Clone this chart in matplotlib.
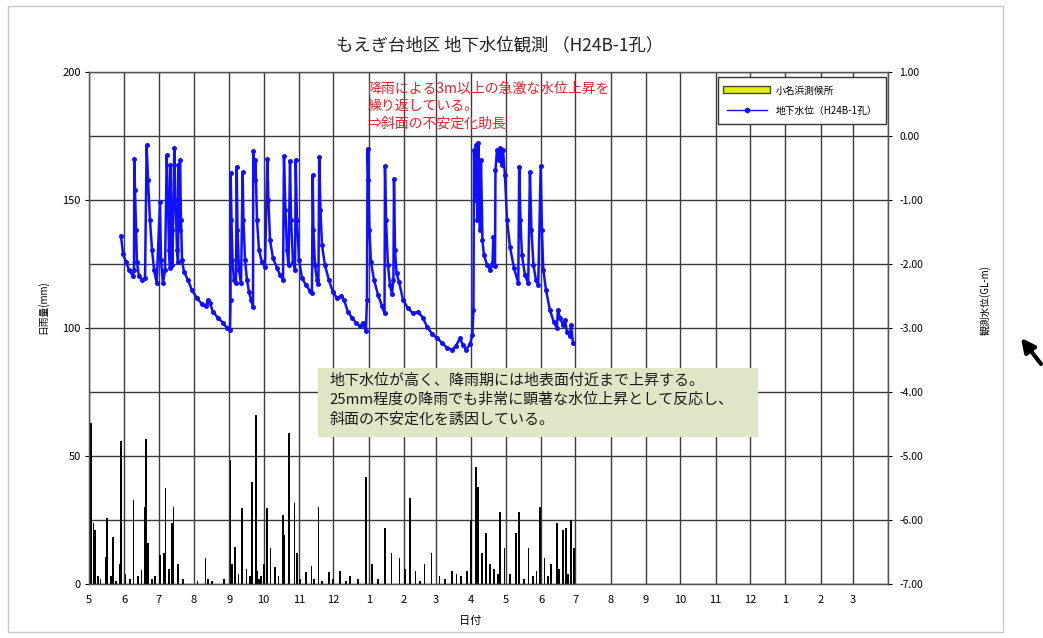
import matplotlib
matplotlib.use('Agg')
import matplotlib.pyplot as plt
import matplotlib.patheffects as pe
from matplotlib.lines import Line2D
from matplotlib.patches import Rectangle, FancyArrowPatch
from matplotlib.ticker import MultipleLocator, FormatStrFormatter
import pandas as pd

plt.rcParams['font.family'] = ['Noto Sans CJK JP', 'DejaVu Sans']

# ---------------- data ----------------
title = 'もえぎ台地区 地下水位観測 （H24B-1孔）'
rain_label = '小名浜測候所'
gw_label = '地下水位（H24B-1孔）'
x_label = '日付'
y_left_label = '日雨量(mm)'
y_right_label = '観測水位(GL-m)'
start_date = '2012-05-01'
end_date = '2014-04-01'

# daily rainfall: day offset from start_date, mm
rain_day = [2, 4, 5, 8, 10, 15, 16, 19, 21, 24, 27, 28, 32, 36, 39, 43, 46, 49, 50, 52,
            55, 58, 62, 66, 67, 70, 73, 74, 78, 82, 95, 102, 104, 108, 118, 124, 125, 128,
            131, 134, 138, 141, 143, 146, 147, 149, 151, 153, 156, 159, 163, 166, 170, 171,
            175, 180, 182, 185, 190, 195, 197, 201, 204, 210, 214, 220, 225, 229, 236, 243,
            248, 253, 259, 265, 272, 277, 281, 286, 290, 294, 300, 307, 312, 318, 322, 326,
            331, 335, 339, 341, 344, 348, 351, 355, 358, 360, 364, 369, 374, 377, 381, 385,
            389, 392, 395, 399, 402, 405, 410, 412, 415, 418, 420, 422, 425]
rain_mm = [62.8, 23.8, 21.0, 3.0, 2.0, 10.7, 25.8, 3.0, 18.5, 1.0, 8.0, 56.0, 4.0, 2.0, 32.8,
           3.0, 5.5, 30.0, 56.5, 16.0, 2.0, 3.0, 11.3, 12.0, 37.5, 6.0, 23.8, 30.2, 8.0, 2.0,
           1.0, 10.0, 2.0, 1.0, 2.0, 48.4, 8.0, 14.6, 4.0, 29.6, 6.0, 3.0, 40.0, 66.0, 5.0,
           2.0, 3.0, 8.0, 29.6, 14.0, 6.8, 3.0, 27.0, 19.0, 58.9, 31.6, 12.0, 2.0, 4.8, 7.0,
           2.0, 30.2, 1.0, 4.8, 2.0, 5.0, 1.0, 3.0, 2.0, 41.8, 8.0, 2.0, 22.0, 12.0, 10.0,
           6.0, 33.6, 5.0, 1.0, 8.0, 12.0, 3.0, 2.0, 5.0, 4.0, 3.0, 5.0, 25.0, 45.7, 38.0,
           12.0, 20.0, 8.0, 6.0, 4.0, 28.0, 14.0, 4.0, 20.0, 28.0, 2.0, 14.0, 3.0, 5.0, 30.0,
           10.0, 3.0, 8.0, 24.0, 6.0, 21.0, 22.0, 4.0, 25.0, 14.0]

# groundwater level (GL-m): day offset from start_date, level
gw_day = [28.0, 29.8, 32.4, 35.0, 38.5, 39.4, 39.7, 40.3, 41.2, 42.0, 43.8, 46.4, 49.1, 50.5,
          51.7, 53.4, 55.2, 57.0, 59.3, 62.2, 63.1, 64.8, 66.6, 68.1, 69.2, 70.1, 71.0, 71.2,
          72.3, 73.1, 74.7, 75.8, 77.1, 78.0, 78.4, 79.3, 79.7, 80.6, 81.5, 83.2, 86.7, 90.2,
          94.6, 99.0, 102.5, 104.2, 106.0, 108.6, 113.0, 117.4, 120.9, 123.5,
          124.0, 124.1, 124.8, 125.7, 127.0, 128.8, 129.4, 130.1, 131.4, 133.2, 134.6, 135.3,
          136.7, 138.4, 140.2, 141.9, 143.7, 143.9, 145.0, 145.8, 147.2, 148.9, 151.5, 154.2,
          156.2, 157.2, 158.6, 161.2, 164.7, 167.3, 170.0, 170.8, 172.1, 173.4, 174.8, 176.1,
          177.0, 178.7, 180.5, 181.1, 182.2, 184.0, 186.6, 190.1, 193.6, 195.3, 196.0, 196.6,
          198.0, 199.7, 201.0, 201.7, 202.8, 204.1, 206.7, 210.2, 213.7, 217.2, 220.8, 223.4,
          226.9, 230.4, 233.9, 237.4, 240.0, 242.6,
          243.5, 244.1, 244.8, 245.7, 247.0, 249.7, 253.2, 256.7, 258.9, 259.3, 260.2, 261.9,
          263.7, 265.4, 266.7, 267.2, 268.1, 269.4, 271.6, 275.1, 279.4, 283.8, 288.2, 292.6,
          296.1, 300.5, 304.8, 309.2, 313.6, 318.0, 321.5, 325.0, 327.6, 330.3, 333.8, 335.9,
          336.8, 337.3, 338.1, 339.0, 340.3, 341.2, 342.5, 343.4, 344.7, 346.0, 348.8, 351.4,
          353.5, 354.2, 354.8, 355.7, 356.1, 357.4, 358.8, 360.0, 361.4, 362.7, 364.4, 366.2,
          368.8, 372.3, 376.1, 376.9, 378.0, 379.3, 381.9, 384.8, 386.3, 387.6, 389.4, 391.6,
          393.6, 395.7, 396.8, 398.0, 400.4, 403.8, 407.3, 409.9, 410.8, 412.6, 415.2, 417.0,
          418.7, 421.4, 422.3, 424.0]
gw_level = [-1.56, -1.84, -1.97, -2.09, -2.19, -2.09, -0.36, -0.84, -1.47, -1.97, -2.19, -2.25,
            -2.22, -0.14, -0.69, -1.31, -1.78, -2.09, -2.30, -1.03, -1.94, -2.30, -2.09, -0.30,
            -1.00, -1.78, -2.06, -0.45, -1.47, -2.02, -0.19, -1.00, -1.78, -1.97, -0.45, -1.47,
            -0.375, -1.31, -1.94, -2.12, -2.25, -2.41, -2.53, -2.63, -2.66, -2.56, -2.61, -2.75,
            -2.84, -2.92, -3.00, -3.03,
            -2.56, -0.58, -1.31, -1.94, -2.25, -2.30, -0.48, -1.47, -2.09, -2.30, -0.56, -1.31,
            -1.94, -2.25, -2.44, -2.56, -2.67, -0.23, -0.69, -0.375, -1.31, -1.78, -1.97, -2.05,
            -0.36, -1.00, -1.63, -1.91, -2.06, -2.17, -2.25, -0.31, -1.16, -1.78, -2.02, -0.39,
            -1.31, -1.97, -2.09, -0.375, -1.31, -1.94, -2.22, -2.33, -2.42, -2.45, -0.61, -1.47,
            -2.02, -2.25, -2.31, -0.33, -1.16, -1.70, -2.02, -2.25, -2.44, -2.53, -2.50, -2.56,
            -2.75, -2.84, -2.92, -2.97, -2.92, -3.05,
            -2.56, -0.20, -0.69, -1.47, -1.97, -2.25, -2.48, -2.66, -2.77, -0.47, -1.31, -2.02,
            -2.33, -2.47, -2.25, -0.67, -1.78, -2.14, -2.28, -2.56, -2.69, -2.77, -2.75, -2.84,
            -2.98, -3.09, -3.16, -3.23, -3.31, -3.34, -3.28, -3.16, -3.27, -3.34, -3.25, -3.11,
            -2.72, -0.22, -1.00, -0.14, -1.31, -0.11, -1.47, -0.375, -1.63, -1.86, -2.02, -2.09,
            -2.00, -1.58, -2.02, -2.03, -0.53, -0.22, -0.375, -0.19, -0.45, -0.22, -0.61, -1.31,
            -1.73, -2.06, -2.30, -0.48, -1.31, -1.86, -2.17, -2.30, -0.56, -1.47, -2.02, -2.25,
            -2.33, -0.47, -1.47, -2.09, -2.41, -2.72, -2.91, -3.00, -2.72, -2.84, -2.95, -2.88,
            -3.06, -3.13, -2.95, -3.23]

red_note = '降雨による3m以上の急激な水位上昇を\n繰り返している。\n⇒斜面の不安定化助長'
box_note = ('地下水位が高く、降雨期には地表面付近まで上昇する。\n'
            '25mm程度の降雨でも非常に顕著な水位上昇として反応し、\n'
            '斜面の不安定化を誘因している。')

# ---------------- figure ----------------
fig = plt.figure(figsize=(10.43, 6.38), dpi=100)
fig.patch.set_facecolor('white')
fig.add_artist(Rectangle((8 / 1043, 6 / 638), 995 / 1043, 626 / 638,
                         transform=fig.transFigure, fill=False,
                         edgecolor='#c8c8c8', lw=1.0))

ax = fig.add_axes([89 / 1043, 1 - 584 / 638, 799 / 1043, 512 / 638])
base = pd.Timestamp(start_date)
months = pd.date_range(start_date, end_date, freq='MS')
month_pos = [(m - base).days for m in months]
total_days = (pd.Timestamp(end_date) - base).days

ax.bar(rain_day, rain_mm, width=1.6, color='black', align='center', zorder=2)
ax.set_xlim(0, total_days)
ax.set_ylim(0, 200)
ax.set_xticks(month_pos[:-1])
ax.set_xticklabels([str(m.month) for m in months[:-1]], fontsize=8)
ax.set_xticks(month_pos, minor=True)
ax.yaxis.set_major_locator(MultipleLocator(50))
ax.yaxis.set_minor_locator(MultipleLocator(25))
ax.tick_params(axis='y', labelsize=8, length=3, pad=3)
ax.tick_params(axis='x', length=0, pad=8)
ax.tick_params(which='minor', length=0)
ax.grid(True, which='both', color='#3a3a3a', lw=1.0)
ax.set_axisbelow(True)
for s in ax.spines.values():
    s.set_color('#555555')
    s.set_linewidth(1.0)
ax.set_ylabel(y_left_label, fontsize=7)
ax.yaxis.set_label_coords(-0.051, 0.54)
ax.set_xlabel(x_label, fontsize=8)
ax.xaxis.set_label_coords(0.477, -0.062)

ax2 = ax.twinx()
ax2.plot(gw_day, gw_level, color='#1010ff', lw=1.8, marker='o', ms=3.6,
         markeredgewidth=0, zorder=3)
ax2.set_ylim(-7, 1)
ax2.yaxis.set_major_locator(MultipleLocator(1))
ax2.yaxis.set_major_formatter(FormatStrFormatter('%.2f'))
ax2.tick_params(axis='y', labelsize=7.5, length=3, pad=5)
ax2.set_ylabel(y_right_label, fontsize=7)
ax2.yaxis.set_label_coords(1.115, 0.555)
for s in ax2.spines.values():
    s.set_color('#555555')

# notes
ax2.text(0.349, 0.981, red_note, transform=ax2.transAxes, color='#e8202a',
         fontsize=10, va='top', ha='left', linespacing=1.3, zorder=6)
ax2.add_patch(Rectangle((0.2866, 0.287), 0.5504, 0.135, transform=ax2.transAxes,
                        facecolor='#dfe6c6', edgecolor='none', zorder=5))
ax2.text(0.301, 0.412, box_note, transform=ax2.transAxes, color='#1a1a1a',
         fontsize=10.8, va='top', ha='left', linespacing=1.45, zorder=6)

# legend
h1 = Line2D([0], [0], color='#e0f000', lw=4,
            path_effects=[pe.Stroke(linewidth=6, foreground='#4a4a3a'), pe.Normal()])
h2 = Line2D([0], [0], color='#1010ff', lw=1.0, marker='o', ms=3)
leg = ax2.legend([h1, h2], [rain_label, gw_label], loc='upper right',
                 bbox_to_anchor=(0.997, 0.99), borderaxespad=0, fontsize=7,
                 fancybox=False, framealpha=1, edgecolor='#333333',
                 handlelength=4.2, borderpad=0.9, labelspacing=1.0)
leg.set_zorder(7)
leg.get_frame().set_linewidth(1.0)

fig.text(0.479, 0.929, title, ha='center', va='center', fontsize=12.5, color='#222222')

# arrow on the right edge
fig.add_artist(FancyArrowPatch(
    (1041 / 1043, 1 - 364 / 638), (1021 / 1043, 1 - 338 / 638),
    transform=fig.transFigure, arrowstyle='-|>', mutation_scale=20,
    lw=3, color='black', shrinkA=0, shrinkB=0))

fig.savefig('out.png', dpi=100, facecolor='white')
